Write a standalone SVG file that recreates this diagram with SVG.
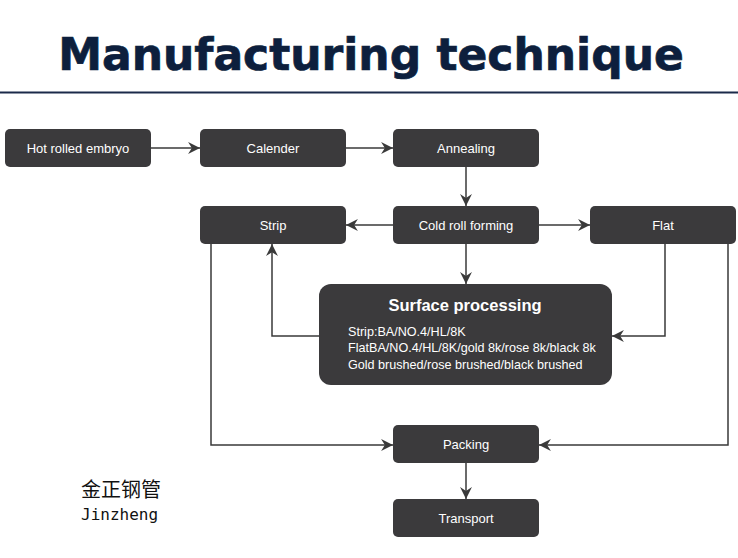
<svg xmlns="http://www.w3.org/2000/svg" width="738" height="558" viewBox="0 0 738 558">
  <defs>
    <marker id="arr" markerUnits="userSpaceOnUse" markerWidth="13" markerHeight="13" viewBox="0 0 12 12" refX="11" refY="6" orient="auto">
      <path d="M0,0.5 L11,6 L0,11.5 L3.5,6 Z" fill="#3a3a3a"/>
    </marker>
  </defs>
  <style>
    .box { fill: #3b3a3c; }
    .lbl { font-family: "Liberation Sans", Arial, sans-serif; font-size: 13px; fill: #ffffff; text-anchor: middle; }
    .con { fill: none; stroke: #3a3a3a; stroke-width: 1.5; marker-end: url(#arr); }
    .sub { font-family: "Liberation Sans", Arial, sans-serif; font-size: 12.6px; fill: #ffffff; }
  </style>
  <rect width="738" height="558" fill="#ffffff"/>
  <g id="title">
    <text x="371" y="70" font-family="DejaVu Sans, Verdana, sans-serif" font-weight="bold" font-size="44" fill="#0d1f3d" stroke="#0d1f3d" stroke-width="0.7" text-anchor="middle">Manufacturing technique</text>
    <rect x="0" y="91.5" width="738" height="2" fill="#1b2a4a"/>
  </g>
  <g id="connectors">
    <path class="con" d="M151,148 H200"/>
    <path class="con" d="M346,148 H393"/>
    <path class="con" d="M466,167 V206"/>
    <path class="con" d="M393,225 H346"/>
    <path class="con" d="M539,225 H590"/>
    <path class="con" d="M466,244 V284"/>
    <path class="con" d="M319,336 H272 V244"/>
    <path class="con" d="M665,244 V336 H612"/>
    <path class="con" d="M211,244 V445 H393"/>
    <path class="con" d="M728,244 V445 H539"/>
    <path class="con" d="M466,463 V499"/>
  </g>
  <g id="hot">
    <rect class="box" x="5" y="129" width="146" height="38" rx="5"/>
    <text class="lbl" x="78" y="152.5">Hot rolled embryo</text>
  </g>
  <g id="calender">
    <rect class="box" x="200" y="129" width="146" height="38" rx="5"/>
    <text class="lbl" x="273" y="152.5">Calender</text>
  </g>
  <g id="annealing">
    <rect class="box" x="393" y="129" width="146" height="38" rx="5"/>
    <text class="lbl" x="466" y="152.5">Annealing</text>
  </g>
  <g id="strip">
    <rect class="box" x="200" y="206" width="146" height="38" rx="5"/>
    <text class="lbl" x="273" y="229.5">Strip</text>
  </g>
  <g id="cold">
    <rect class="box" x="393" y="206" width="146" height="38" rx="5"/>
    <text class="lbl" x="466" y="229.5">Cold roll forming</text>
  </g>
  <g id="flat">
    <rect class="box" x="590" y="206" width="146" height="38" rx="5"/>
    <text class="lbl" x="663" y="229.5">Flat</text>
  </g>
  <g id="surface">
    <rect class="box" x="319" y="284" width="293" height="101" rx="12"/>
    <text x="465" y="310.5" font-family="Liberation Sans, Arial, sans-serif" font-weight="bold" font-size="16.5" fill="#ffffff" text-anchor="middle">Surface processing</text>
    <text class="sub" x="348" y="335.5">Strip:BA/NO.4/HL/8K</text>
    <text class="sub" x="348" y="352">FlatBA/NO.4/HL/8K/gold 8k/rose 8k/black 8k</text>
    <text class="sub" x="348" y="368.5">Gold brushed/rose brushed/black brushed</text>
  </g>
  <g id="packing">
    <rect class="box" x="393" y="425" width="146" height="38" rx="5"/>
    <text class="lbl" x="466" y="448.5">Packing</text>
  </g>
  <g id="transport">
    <rect class="box" x="393" y="499" width="146" height="38" rx="5"/>
    <text class="lbl" x="466" y="522.5">Transport</text>
  </g>
  <g id="brand">
    <text x="81" y="497" font-family="Noto Sans CJK SC, sans-serif" font-size="20" fill="#111111">金正钢管</text>
    <text x="81" y="520" font-family="DejaVu Sans Mono, monospace" font-size="16" fill="#111111">Jinzheng</text>
  </g>
</svg>
